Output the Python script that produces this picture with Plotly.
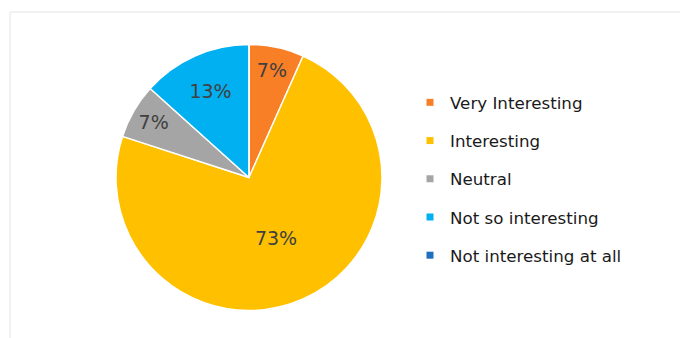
import plotly.graph_objects as go

categories = ["Very Interesting", "Interesting", "Neutral", "Not so interesting", "Not interesting at all"]
counts = [1, 11, 1, 2, 0]
colors = ["#F97F26", "#FFC000", "#A5A5A5", "#00B0F0", "#1F6FC0"]

W, H = 680, 338
cx, cy, r = 249, 177.5, 133

fig = go.Figure()
fig.add_trace(go.Pie(
    labels=categories,
    values=counts,
    sort=False,
    direction="clockwise",
    rotation=0,
    marker=dict(colors=colors, line=dict(color="white", width=1.5)),
    texttemplate="%{percent:.0%}",
    textposition="inside",
    insidetextorientation="horizontal",
    textfont=dict(family="DejaVu Sans", size=19, color="#404040"),
    showlegend=False,
    hoverinfo="label+percent",
    domain=dict(x=[(cx - r) / W, (cx + r) / W], y=[(H - cy - r) / H, (H - cy + r) / H]),
))

for name, col in zip(categories, colors):
    fig.add_trace(go.Scatter(
        x=[None], y=[None], mode="markers", name=name,
        legendgroup=name,
        marker=dict(symbol="square", size=7, color=col),
    ))

fig.add_shape(type="rect", xref="paper", yref="paper",
              x0=10 / W, x1=1.05, y0=-0.05, y1=(H - 12) / H,
              line=dict(color="#E3E3E3", width=1), fillcolor="rgba(0,0,0,0)", layer="below")

fig.update_layout(
    width=W, height=H, autosize=False,
    margin=dict(l=0, r=0, t=0, b=0),
    paper_bgcolor="white", plot_bgcolor="white",
    xaxis=dict(visible=False), yaxis=dict(visible=False),
    legend=dict(
        x=410 / W, y=(H - 85) / H, xanchor="left", yanchor="top",
        traceorder="grouped", tracegroupgap=13.5,
        font=dict(family="DejaVu Sans", size=16.7, color="#1A1A1A"),
        bgcolor="rgba(0,0,0,0)",
    ),
)

fig.write_html("out.html", config={"displayModeBar": False},
               post_script="document.body.style.margin='0';document.body.style.overflow='hidden';")
